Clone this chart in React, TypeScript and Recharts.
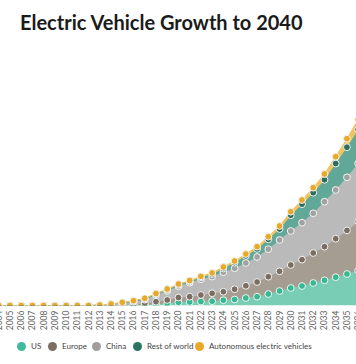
import { ComposedChart, Area, Line, XAxis, YAxis } from 'recharts'

const years = [
  2000, 2001, 2002, 2003, 2004, 2005, 2006, 2007, 2008, 2009, 2010, 2011, 2012, 2013,
  2014, 2015, 2016, 2017, 2018, 2019, 2020, 2021, 2022, 2023, 2024, 2025, 2026, 2027,
  2028, 2029, 2030, 2031, 2032, 2033, 2034, 2035, 2036, 2037, 2038, 2039, 2040,
]

// tick labels that fall inside the visible crop
const yearTicks = [
  2004, 2005, 2006, 2007, 2008, 2009, 2010, 2011, 2012, 2013, 2014, 2015, 2016, 2017,
  2018, 2019, 2020, 2021, 2022, 2023, 2024, 2025, 2026, 2027, 2028, 2029, 2030, 2031,
  2032, 2033, 2034, 2035, 2036,
]

const us = [
  0, 0, 0, 0, 0, 0, 0, 0, 0, 0, 0, 0, 0, 0,
  0, 0.2, 0.3, 0.5, 1, 2, 3.2, 3.5, 4, 4.3, 5.3, 6, 7.5, 8.8,
  11.5, 14.5, 17.5, 19.5, 22.5, 25.2, 28.3, 31.5, 35, 39, 43, 47, 52,
]
const europe = [
  0, 0, 0, 0, 0, 0, 0, 0, 0, 0, 0, 0, 0, 0.1,
  0.3, 0.6, 0.7, 1.8, 2.8, 3.5, 4.8, 5.3, 6.5, 7.9, 8.5, 10.3, 12.2, 14.7,
  17.3, 19.7, 23, 26.4, 30, 33.6, 38.5, 43.6, 49, 55, 61, 68, 75,
]
const china = [
  0, 0, 0, 0, 0, 0, 0, 0, 0, 0, 0, 0, 0, 0.2,
  0.8, 1.5, 2.6, 3.5, 6.5, 9, 11.3, 14, 15.7, 16.7, 19.5, 20.9, 22.8, 25,
  27.5, 31.3, 34, 36.9, 39.7, 45, 48.7, 53.1, 58, 63, 69, 75, 82,
]
const restOfWorld = [
  0, 0, 0, 0, 0, 0, 0, 0, 0, 0, 0, 0, 0, 0.1,
  0.2, 0.6, 0.8, 0.9, 1.1, 1.3, 1.4, 1.3, 2, 2.5, 3.8, 5.7, 7.1, 8.1,
  9.9, 11, 15.8, 18.5, 20.6, 21.9, 26.5, 30.1, 34, 38, 43, 48, 53,
]
const autonomous = [
  0, 0, 0, 0, 0, 0, 0, 0, 0, 0, 0, 0, 0, 0.1,
  0.2, 0.3, 0.4, 0.5, 0.6, 0.7, 0.8, 0.9, 1, 1.2, 1.4, 1.6, 1.9, 2.2,
  2.6, 3, 3.5, 4.2, 5, 5.8, 6.8, 8.5, 10, 12, 14, 16, 18,
]

const series = [
  { key: 'us', name: 'US', area: '#7acdb5', dot: '#36b892', swatch: '#3dbb9c', legendX: 17 },
  { key: 'europe', name: 'Europe', area: '#a69d92', dot: '#7a6d62', swatch: '#7a6d62', legendX: 48 },
  { key: 'china', name: 'China', area: '#bababa', dot: '#a2a2a2', swatch: '#9e9e9e', legendX: 92 },
  { key: 'rest', name: 'Rest of world', area: '#62a898', dot: '#2c6e5e', swatch: '#2a7461', legendX: 133 },
  { key: 'auto', name: 'Autonomous electric vehicles', area: '#f2c35e', dot: '#e9a928', swatch: '#eaa824', legendX: 195 },
]

// stacked table; the *Top fields only place the dots on top of each band
const data = years.map((year, i) => {
  const t1 = us[i]
  const t2 = t1 + europe[i]
  const t3 = t2 + china[i]
  const t4 = t3 + restOfWorld[i]
  const t5 = t4 + autonomous[i]
  return {
    year,
    us: us[i],
    europe: europe[i],
    china: china[i],
    rest: restOfWorld[i],
    auto: autonomous[i],
    usTop: t1,
    europeTop: t2,
    chinaTop: t3,
    restTop: t4,
    autoTop: t5,
  }
})

const YearTick = (props: any) => {
  const { x, y, payload } = props
  return (
    <text
      x={x}
      y={y}
      transform={`rotate(-90, ${x}, ${y})`}
      textAnchor="end"
      dy="0.35em"
      fontSize={8.5}
      fill="#666"
      fontFamily="Lato, sans-serif"
    >
      {payload.value}
    </text>
  )
}

export default function App() {
  return (
    <div
      style={{
        position: 'absolute',
        left: 0,
        top: 0,
        width: 356,
        height: 364,
        overflow: 'hidden',
        background: '#fff',
        fontFamily: 'Lato, sans-serif',
      }}
    >
      <div style={{ position: 'absolute', left: -60, top: 0 }}>
        <ComposedChart
          width={480}
          height={364}
          data={data}
          margin={{ top: 5.5, right: 16.9, left: 13.8, bottom: 28.5 }}
        >
          <XAxis
            dataKey="year"
            type="number"
            domain={[2000, 2040]}
            ticks={yearTicks}
            interval={0}
            height={30}
            axisLine={false}
            tickLine={false}
            tickSize={0}
            tickMargin={5}
            tick={<YearTick />}
          />
          <YAxis hide domain={[0, 300]} allowDataOverflow />
          {series.map((s) => (
            <Area
              key={s.key}
              type="linear"
              dataKey={s.key}
              name={s.name}
              stackId="ev"
              fill={s.area}
              fillOpacity={1}
              stroke={s.area}
              strokeWidth={1}
              dot={false}
              activeDot={false}
              isAnimationActive={false}
            />
          ))}
          {series.map((s) => (
            <Line
              key={s.key + 'Top'}
              type="linear"
              dataKey={s.key + 'Top'}
              stroke="none"
              dot={{ r: 3.4, fill: s.dot, stroke: '#f4f4f4', strokeWidth: 1, fillOpacity: 1 }}
              activeDot={false}
              legendType="none"
              isAnimationActive={false}
            />
          ))}
        </ComposedChart>
      </div>
      <div
        style={{
          position: 'absolute',
          left: 20,
          top: 10,
          fontSize: 20,
          fontWeight: 700,
          color: '#1b1b1b',
          lineHeight: '24px',
          whiteSpace: 'nowrap',
        }}
      >
        Electric Vehicle Growth to 2040
      </div>
      {series.map((s) => (
        <div
          key={s.key}
          style={{
            position: 'absolute',
            left: s.legendX,
            top: 341,
            display: 'flex',
            alignItems: 'center',
            gap: 5,
            fontSize: 8,
            color: '#444',
            whiteSpace: 'nowrap',
          }}
        >
          <span
            style={{
              display: 'inline-block',
              width: 9,
              height: 9,
              borderRadius: '50%',
              background: s.swatch,
            }}
          />
          <span>{s.name}</span>
        </div>
      ))}
    </div>
  )
}
